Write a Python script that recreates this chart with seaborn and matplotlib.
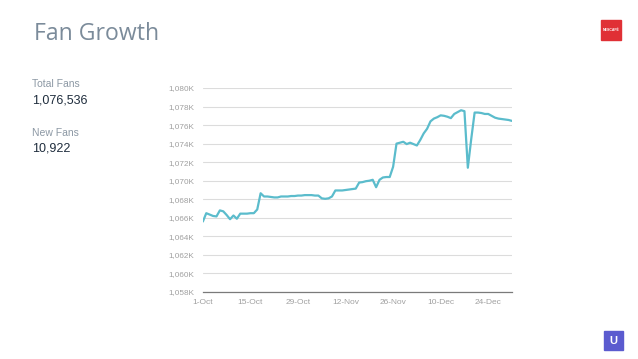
import pandas as pd
import matplotlib.pyplot as plt
import matplotlib.dates as mdates
import seaborn as sns
from matplotlib.patches import Rectangle

# daily fan counts (in thousands), 1-Oct .. 31-Dec
fans_k = [
    1065.6, 1066.5, 1066.35, 1066.2, 1066.15, 1066.8, 1066.7, 1066.3, 1065.85, 1066.25,
    1065.9, 1066.45, 1066.45, 1066.45, 1066.5, 1066.5, 1066.9, 1068.65, 1068.3, 1068.3,
    1068.25, 1068.2, 1068.2, 1068.3, 1068.3, 1068.3, 1068.35, 1068.35, 1068.4, 1068.4,
    1068.45, 1068.45, 1068.45, 1068.4, 1068.4, 1068.1, 1068.05, 1068.1, 1068.3, 1068.95,
    1068.95, 1068.95, 1069.0, 1069.05, 1069.1, 1069.15, 1069.8, 1069.85, 1069.95, 1070.0,
    1070.1, 1069.3, 1070.1, 1070.35, 1070.4, 1070.4, 1071.5, 1074.0, 1074.1, 1074.2,
    1073.95, 1074.1, 1073.95, 1073.8, 1074.4, 1075.1, 1075.6, 1076.4, 1076.7, 1076.85,
    1077.05, 1077.0, 1076.9, 1076.75, 1077.2, 1077.4, 1077.6, 1077.5, 1071.4, 1074.5,
    1077.35, 1077.35, 1077.3, 1077.2, 1077.2, 1077.0, 1076.8, 1076.7, 1076.65, 1076.6,
    1076.55, 1076.45,
]
dates = pd.date_range("2015-10-01", periods=len(fans_k), freq="D")
tick_dates = pd.date_range("2015-10-01", "2015-12-24", freq="14D")
y_ticks = list(range(1058, 1081, 2))

total_fans = "1,076,536"
new_fans = "10,922"

df = pd.DataFrame({"date": dates, "fans": fans_k})

sns.set_style("white")
plt.rcParams['font.family'] = ['Liberation Sans', 'DejaVu Sans']

fig = plt.figure(figsize=(6.38, 3.59), dpi=100)
ax = fig.add_axes([0.318, 0.1866, 0.4845, 0.5683])

sns.lineplot(data=df, x="date", y="fans", ax=ax, color="#5bbccc", linewidth=1.6)

ax.set_ylim(1058, 1080)
ax.set_yticks(y_ticks)
ax.set_yticklabels([f"1,{v - 1000:03d}K" for v in y_ticks])
ax.set_xlim(dates[0], dates[-1])
ax.set_xticks(tick_dates)
ax.xaxis.set_major_formatter(mdates.DateFormatter("%-d-%b"))
ax.set_xlabel("")
ax.set_ylabel("")
ax.grid(axis="y", color="#dcdcdc", linewidth=0.8)
ax.tick_params(axis="y", labelsize=5.9, colors="#a0a0a0", length=0, pad=6)
ax.tick_params(axis="x", labelsize=6.0, colors="#a0a0a0", length=0, pad=5)
for s in ["top", "right", "left"]:
    ax.spines[s].set_visible(False)
ax.spines["bottom"].set_color("#7a7a7a")
ax.spines["bottom"].set_linewidth(0.9)

fig.text(0.053, 0.905, "Fan Growth", fontsize=16.6, color="#7b8b9a", va="center",
         family=["Open Sans", "DejaVu Sans"])
fig.text(0.05, 0.765, "Total Fans", fontsize=7.5, color="#8c98a4", va="center")
fig.text(0.05, 0.72, total_fans, fontsize=9.0, color="#1f2d3d", va="center")
fig.text(0.05, 0.63, "New Fans", fontsize=7.5, color="#8c98a4", va="center")
fig.text(0.05, 0.587, new_fans, fontsize=9.0, color="#1f2d3d", va="center")

# logos
fig.patches.append(Rectangle((601 / 638, 1 - 40 / 359), 20 / 638, 20 / 359,
                             transform=fig.transFigure, color="#e03035"))
fig.text(611 / 638, 1 - 30 / 359, "NESCAFÉ", fontsize=2.5, color="white",
         ha="center", va="center", weight="bold")
fig.patches.append(Rectangle((604 / 638, 1 - 350 / 359), 19 / 638, 19 / 359,
                             transform=fig.transFigure, color="#5b5bcf"))
fig.text(613.5 / 638, 1 - 340.5 / 359, "U", fontsize=8, color="white",
         ha="center", va="center", weight="bold")

fig.savefig("out.png", dpi=100)
